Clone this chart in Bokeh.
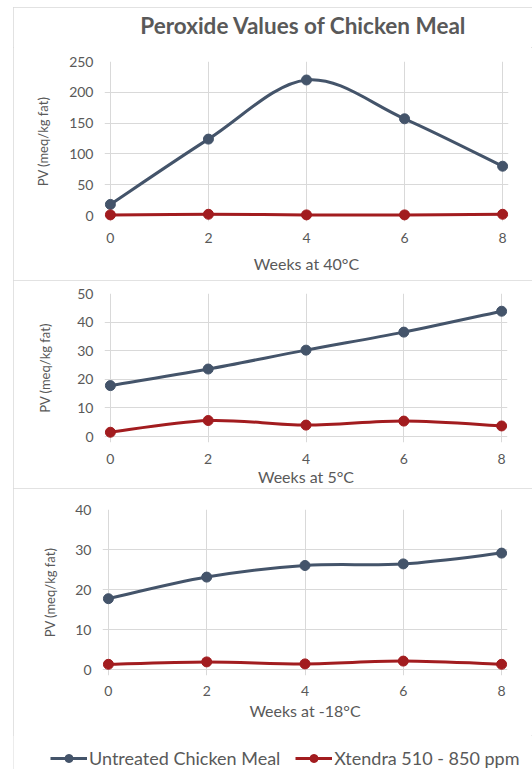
from bokeh.plotting import figure
from bokeh.models import ColumnDataSource, FixedTicker, Range1d, Legend, LegendItem
from bokeh.layouts import column
from bokeh.embed import file_html
from bokeh.resources import INLINE

weeks = [0, 2, 4, 6, 8]
untreated_40 = [18, 124, 220, 157, 80]
xtendra_40 = [1, 2, 1, 1, 2]
untreated_5 = [17.8, 23.6, 30.2, 36.5, 43.8]
xtendra_5 = [1.5, 5.6, 4.0, 5.4, 3.7]
untreated_m18 = [17.7, 23.1, 26.0, 26.4, 29.1]
xtendra_m18 = [1.3, 1.9, 1.4, 2.1, 1.3]
series_names = ["Untreated Chicken Meal", "Xtendra 510 - 850 ppm"]
x_titles = ["Weeks at 40°C", "Weeks at 5°C", "Weeks at -18°C"]
y_title = "PV (meq/kg fat)"
chart_title = "Peroxide Values of Chicken Meal"

BLUE = "#44546A"
RED = "#A21C1F"
TXT = "#595959"
GRID = "#D9D9D9"
FONT = "Lato"
FIG_LEFT = 13
FIG_W = 519
OUTLINE = {"outline": "1px solid #D9D9D9", "outline-offset": "-1px"}


def no_align(p):
    if "frame_align" in p.properties():
        p.frame_align = False


def bare_figure(height, **kw):
    f = figure(width=FIG_W, height=height, output_backend="svg",
               toolbar_location=None, x_range=Range1d(0, 1), y_range=Range1d(0, 1),
               x_axis_location=None, y_axis_location=None, margin=(0, 0, 0, 0), **kw)
    f.xgrid.visible = False
    f.ygrid.visible = False
    f.outline_line_color = None
    f.border_fill_color = "white"
    f.background_fill_color = "white"
    no_align(f)
    return f


def bezier_source(xs, ys):
    n = len(xs)
    d = dict(x0=[], y0=[], x1=[], y1=[], cx0=[], cy0=[], cx1=[], cy1=[])
    for i in range(n - 1):
        pm = max(i - 1, 0)
        pp = min(i + 2, n - 1)
        d["x0"].append(xs[i]); d["y0"].append(ys[i])
        d["x1"].append(xs[i + 1]); d["y1"].append(ys[i + 1])
        d["cx0"].append(xs[i] + (xs[i + 1] - xs[pm]) / 6)
        d["cy0"].append(ys[i] + (ys[i + 1] - ys[pm]) / 6)
        d["cx1"].append(xs[i + 1] - (xs[pp] - xs[i]) / 6)
        d["cy1"].append(ys[i + 1] - (ys[pp] - ys[i]) / 6)
    return ColumnDataSource(d)


def panel(height, top_abs, x0_abs, x8_abs, ytop_abs, y0_abs, ymax, ystep,
          s1, s2, xtitle, margin=(0, 0, 0, 0), outline=False,
          ylabel_standoff=10, xtick_standoff=5, xlabel_standoff=4):
    xpad = 0.12
    ppx = (x8_abs - x0_abs) / 8.0
    frame_l = x0_abs - xpad * ppx - FIG_LEFT
    frame_r = x8_abs + xpad * ppx - FIG_LEFT
    ppy = (y0_abs - ytop_abs) / ymax
    bpad = 6.0
    frame_t = ytop_abs - top_abs
    frame_b = y0_abs + bpad - top_abs
    p = figure(width=FIG_W, height=height, output_backend="svg",
               toolbar_location=None,
               x_range=Range1d(-xpad, 8 + xpad),
               y_range=Range1d(-bpad / ppy, ymax),
               min_border_left=int(round(frame_l)),
               min_border_right=int(round(FIG_W - frame_r)),
               min_border_top=int(round(frame_t)),
               min_border_bottom=int(round(height - frame_b)),
               margin=margin)
    no_align(p)
    if outline:
        p.styles = dict(OUTLINE)
    p.outline_line_color = None
    p.background_fill_color = "white"
    p.border_fill_color = "white"

    p.xaxis.ticker = FixedTicker(ticks=weeks)
    p.yaxis.ticker = FixedTicker(ticks=list(range(0, ymax + 1, ystep)))
    for ax in (p.xaxis[0], p.yaxis[0]):
        ax.axis_line_color = None
        ax.major_tick_line_color = None
        ax.minor_tick_line_color = None
        ax.major_label_text_font = FONT
        ax.major_label_text_font_size = "14px"
        ax.major_label_text_color = TXT
        ax.axis_label_text_font = FONT
        ax.axis_label_text_font_style = "normal"
        ax.axis_label_text_color = TXT
    p.yaxis.major_label_standoff = 5
    p.xaxis.major_label_standoff = xtick_standoff
    p.xaxis.axis_label = xtitle
    p.xaxis.axis_label_text_font_size = "16px"
    p.xaxis.axis_label_standoff = xlabel_standoff
    p.yaxis.axis_label = y_title
    p.yaxis.axis_label_text_font_size = "13px"
    p.yaxis.axis_label_standoff = ylabel_standoff

    p.xgrid.ticker = FixedTicker(ticks=weeks)
    p.ygrid.ticker = FixedTicker(ticks=list(range(0, ymax + 1, ystep)))
    p.xgrid.grid_line_color = GRID
    p.ygrid.grid_line_color = GRID
    p.xgrid.grid_line_width = 1
    p.ygrid.grid_line_width = 1

    for vals, color in ((s1, BLUE), (s2, RED)):
        p.bezier(x0="x0", y0="y0", x1="x1", y1="y1", cx0="cx0", cy0="cy0",
                 cx1="cx1", cy1="cy1", source=bezier_source(weeks, vals),
                 line_color=color, line_width=3)
        p.scatter(weeks, vals, size=10, fill_color=color, line_color=color)
    return p


# title strip above the first panel
TITLE_H = 40
tf = bare_figure(TITLE_H, min_border_left=89, min_border_right=28,
                 min_border_top=32, min_border_bottom=0)
tf.title.text = chart_title
tf.title.align = "center"
tf.title.text_font = FONT
tf.title.text_font_size = "22.5px"
tf.title.text_font_style = "bold"
tf.title.text_color = TXT
tf.title.standoff = 4

p1 = panel(273 - TITLE_H, 7 + TITLE_H, 110, 502, 61, 215, 250, 50,
           untreated_40, xtendra_40, x_titles[0],
           ylabel_standoff=15, xtick_standoff=5, xlabel_standoff=8)
p2 = panel(208, 280, 110, 501, 293, 437, 50, 10, untreated_5, xtendra_5,
           x_titles[1], margin=(0, 0, 0, FIG_LEFT), outline=True,
           ylabel_standoff=21, xtick_standoff=5, xlabel_standoff=0)
LEG_H = 34
p3 = panel(281 - LEG_H, 488, 108, 501, 509, 669, 40, 10, untreated_m18, xtendra_m18,
           x_titles[2], ylabel_standoff=14, xtick_standoff=4, xlabel_standoff=2)

# legend strip under the third panel (legend proxies hidden, outside the view)
lf = bare_figure(LEG_H, min_border_left=0, min_border_right=0,
                 min_border_top=0, min_border_bottom=0)
lf.y_range = Range1d(-2, -1)
items = []
for vals, color, name in ((untreated_m18, BLUE, series_names[0]),
                          (xtendra_m18, RED, series_names[1])):
    lr = lf.line(weeks, vals, line_color=color, line_width=3, visible=False)
    sr = lf.scatter(weeks, vals, size=10, fill_color=color, line_color=color,
                    visible=False)
    items.append(LegendItem(label=name, renderers=[lr, sr]))
lg = Legend(items=items, orientation="horizontal", location=(50 - FIG_LEFT, 0),
            glyph_width=37, glyph_height=20, label_standoff=2, spacing=15,
            padding=0, margin=0, label_text_font=FONT,
            label_text_font_size="18px", label_text_color=TXT,
            border_line_color=None, background_fill_alpha=0)
lf.add_layout(lg, "center")

top = column(tf, p1, spacing=0, margin=(7, 0, 0, FIG_LEFT), styles=dict(OUTLINE))
bottom = column(p3, lf, spacing=0, margin=(0, 0, 0, FIG_LEFT), styles=dict(OUTLINE))

layout = column(top, p2, bottom, spacing=0)
open("out.html", "w").write(file_html(layout, INLINE))
